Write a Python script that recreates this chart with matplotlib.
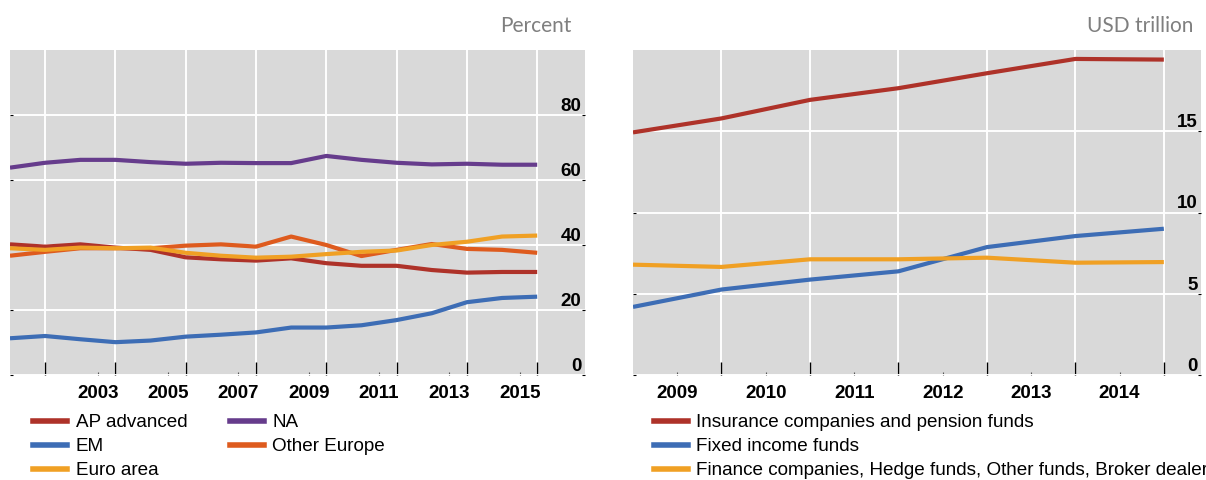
import matplotlib
matplotlib.use("Agg")
import matplotlib.pyplot as plt
from matplotlib.lines import Line2D

# ---------------- data ----------------
years_left = [2000, 2001, 2002, 2003, 2004, 2005, 2006, 2007, 2008, 2009,
              2010, 2011, 2012, 2013, 2014, 2015]
ap_advanced = [40.2, 39.5, 40.2, 39.2, 38.5, 36.2, 35.6, 35.2, 35.9, 34.4,
               33.6, 33.6, 32.3, 31.5, 31.7, 31.7]
na = [63.8, 65.3, 66.2, 66.2, 65.5, 65.0, 65.3, 65.2, 65.2, 67.4,
      66.2, 65.3, 64.8, 65.0, 64.7, 64.7]
em = [11.3, 12.0, 11.0, 10.1, 10.6, 11.8, 12.4, 13.1, 14.6, 14.6,
      15.3, 16.9, 19.0, 22.4, 23.7, 24.1]
other_europe = [36.7, 37.9, 39.0, 39.0, 39.0, 39.8, 40.2, 39.5, 42.6, 40.0,
                36.6, 38.5, 40.3, 38.8, 38.5, 37.6]
euro_area = [39.0, 38.5, 39.2, 39.0, 39.2, 37.6, 36.7, 36.1, 36.4, 37.2,
             37.9, 38.3, 40.0, 41.0, 42.6, 42.9]
left_grid_years = [2001, 2003, 2005, 2007, 2009, 2011, 2013, 2015]
left_tick_labels = ["2003", "2005", "2007", "2009", "2011", "2013", "2015"]
left_yticks = [0, 20, 40, 60, 80]

years_right = [2008, 2009, 2010, 2011, 2012, 2013, 2014]
insurance = [14.93, 15.79, 16.93, 17.65, 18.57, 19.45, 19.41]
fixed_income = [4.19, 5.26, 5.87, 6.38, 7.87, 8.55, 9.00]
finance_cos = [6.79, 6.65, 7.12, 7.12, 7.22, 6.91, 6.95]
right_grid_years = [2009, 2010, 2011, 2012, 2013, 2014]
right_tick_labels = ["2009", "2010", "2011", "2012", "2013", "2014"]
right_yticks = [0, 5, 10, 15]

# ---------------- style ----------------
RED = "#AE3229"
PURPLE = "#663C8C"
BLUE = "#3D6DB5"
ORANGE = "#DE5B1E"
GOLD = "#F0A024"
BG = "#D9D9D9"
LW = 3.0
TICKFONT = dict(family="Liberation Sans", weight="bold", size=13.5)

plt.rcParams["font.family"] = ["Liberation Sans", "DejaVu Sans"]

W, H = 1206, 480
fig = plt.figure(figsize=(W / 100, H / 100), dpi=100)

def px_axes(x0, x1, y0, y1):
    return fig.add_axes([x0 / W, 1 - y1 / H, (x1 - x0) / W, (y1 - y0) / H])

def style_axes(ax, grid_x, label_x, labels_x, yticks, xlim, ylim):
    ax.set_facecolor(BG)
    for s in ax.spines.values():
        s.set_visible(False)
    ax.set_xlim(*xlim)
    ax.set_ylim(*ylim)
    ax.set_xticks(grid_x, labels=[""] * len(grid_x))
    ax.set_xticks(label_x, labels=labels_x, minor=True)
    ax.set_yticks(yticks)
    ax.set_yticklabels([str(v) for v in yticks], ha="right", va="bottom", **TICKFONT)
    for lbl in ax.get_xticklabels(minor=True):
        lbl.set_fontfamily("Liberation Sans")
        lbl.set_fontweight("bold")
        lbl.set_fontsize(13.5)
    ax.grid(True, which="major", color="white", linewidth=1.4)
    ax.set_axisbelow(True)
    ax.tick_params(axis="x", which="major", direction="in", length=9.5,
                   width=1.0, color="black", bottom=True, top=False)
    ax.tick_params(axis="x", which="minor", direction="in", length=2,
                   width=0.8, color="#555555", pad=7, labelcolor="black")
    ax.tick_params(axis="y", which="major", direction="in", length=2,
                   width=0.8, color="black", left=True, right=True,
                   labelleft=False, labelright=True, pad=-2.5)

# ---------------- left panel ----------------
axL = px_axes(10, 585, 50, 375)
axL.plot(years_left, na, color=PURPLE, lw=LW, label="NA", solid_capstyle="butt")
axL.plot(years_left, ap_advanced, color=RED, lw=LW, label="AP advanced", solid_capstyle="butt")
axL.plot(years_left, other_europe, color=ORANGE, lw=LW, label="Other Europe", solid_capstyle="butt")
axL.plot(years_left, euro_area, color=GOLD, lw=LW, label="Euro area", solid_capstyle="butt")
axL.plot(years_left, em, color=BLUE, lw=LW, label="EM", solid_capstyle="butt")
style_axes(axL, left_grid_years, [int(t) - 0.5 for t in left_tick_labels],
           left_tick_labels, left_yticks, (2000, 2016.36), (0, 100))

# ---------------- right panel ----------------
axR = px_axes(633, 1201, 50, 375)
axR.plot(years_right, insurance, color=RED, lw=LW, solid_capstyle="butt")
axR.plot(years_right, fixed_income, color=BLUE, lw=LW, solid_capstyle="butt")
axR.plot(years_right, finance_cos, color=GOLD, lw=LW, solid_capstyle="butt")
style_axes(axR, right_grid_years, [int(t) - 0.5 for t in right_tick_labels],
           right_tick_labels, right_yticks, (2008, 2014.42), (0, 20))

# ---------------- unit labels ----------------
fig.text(572 / W, 1 - 32 / H, "Percent", ha="right", va="baseline",
         color="#7F7F7F", fontsize=15, family=["Lato", "DejaVu Sans"])
fig.text(1193 / W, 1 - 32 / H, "USD trillion", ha="right", va="baseline",
         color="#7F7F7F", fontsize=15, family=["Lato", "DejaVu Sans"])

# ---------------- legends ----------------
def h(c):
    return Line2D([], [], color=c, lw=4)

leg_common = dict(frameon=False, fontsize=13.6, handlelength=1.8,
                  handletextpad=0.45, labelspacing=0.36, borderpad=0,
                  borderaxespad=0, loc="upper left",
                  bbox_transform=fig.transFigure)

fig.legend([h(RED), h(BLUE), h(GOLD), h(PURPLE), h(ORANGE)],
           ["AP advanced", "EM", "Euro area", "NA", "Other Europe"],
           ncol=2, columnspacing=2.25,
           bbox_to_anchor=(33 / W, 1 - 414 / H), **leg_common)
fig.legend([h(RED), h(BLUE), h(GOLD)],
           ["Insurance companies and pension funds", "Fixed income funds",
            "Finance companies, Hedge funds, Other funds, Broker dealers"],
           ncol=1, bbox_to_anchor=(654 / W, 1 - 414 / H), **leg_common)

fig.savefig("out.png", dpi=100)
